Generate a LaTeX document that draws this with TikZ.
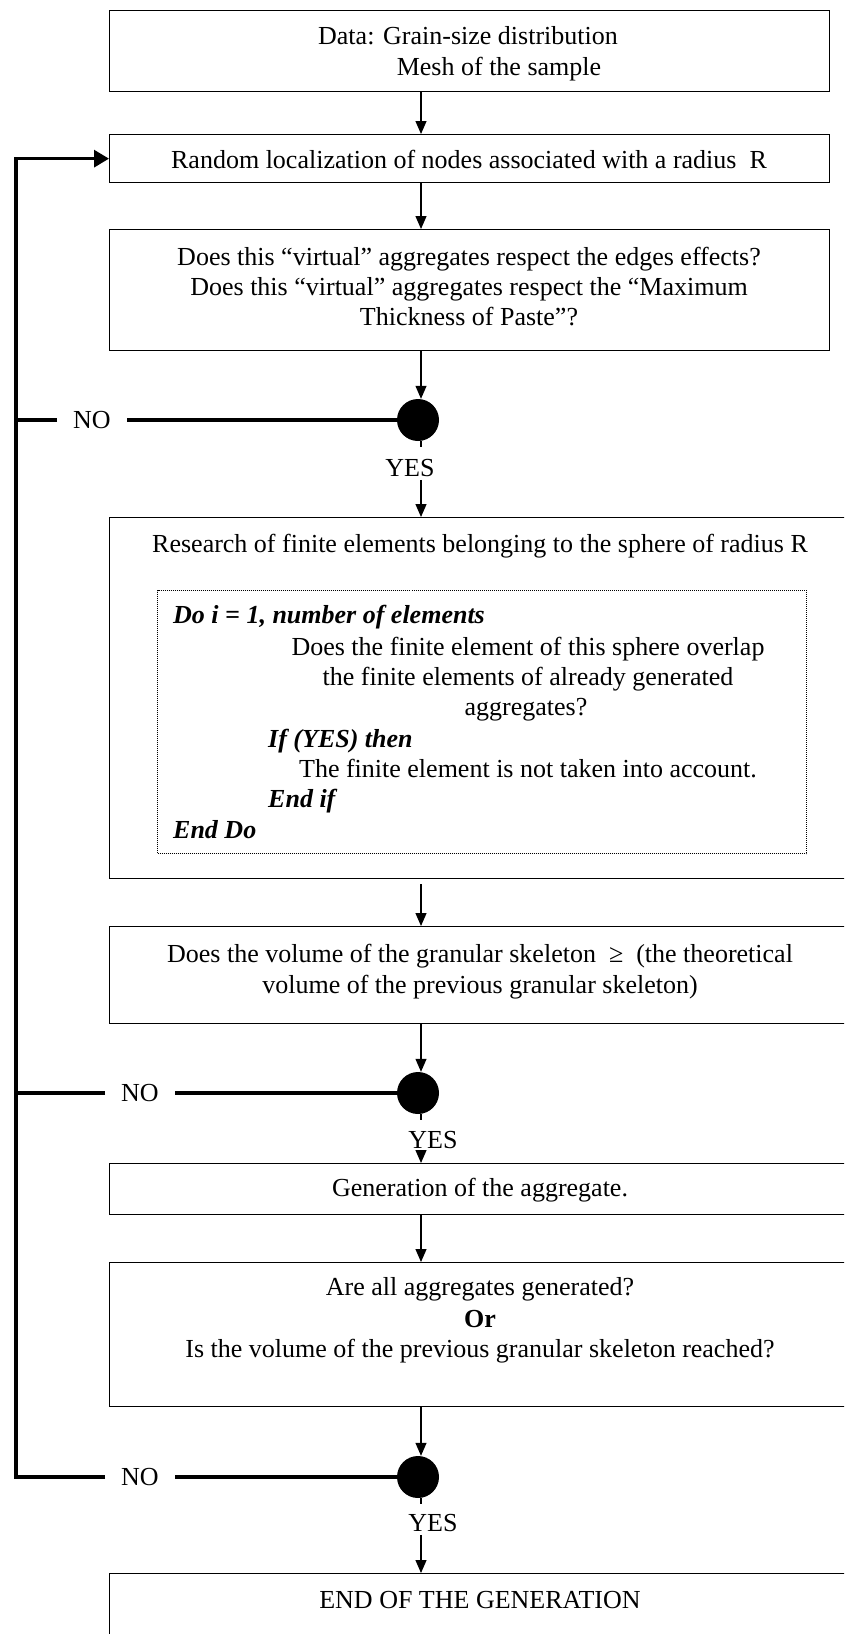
\documentclass[tikz,border=0pt]{standalone}
\usepackage{fontspec}
\setmainfont{Liberation Serif}
\usetikzlibrary{arrows.meta}
\begin{document}
\begin{tikzpicture}[x=1pt,y=-1pt,
  every node/.style={font=\fontsize{26}{30}\selectfont},
  box/.style={draw, line width=1.3pt, rectangle, inner sep=0pt, anchor=north west},
  inbox/.style={draw, densely dotted, line width=1pt, rectangle, inner sep=0pt, anchor=north west},
  txt/.style={anchor=base, inner sep=0pt},
  txtl/.style={anchor=base west, inner sep=0pt, font=\fontsize{26}{30}\selectfont\bfseries\itshape},
  dot/.style={circle, fill=black, minimum size=42pt, inner sep=0pt},
  lab/.style={inner ysep=3pt, inner xsep=16pt},
  arr/.style={line width=1.2pt, -{Triangle[length=13pt,width=11pt]}},
  stub/.style={line width=1.2pt},
  loopline/.style={line width=3.2pt}
]
\useasboundingbox (0,0) rectangle (844,1634);
\clip (0,0) rectangle (844,1634);

\coordinate (ax) at (421,0);

% boxes
\node[box, minimum width=720pt, minimum height=81pt] (b1) at (109,10) {};
\node[box, minimum width=720pt, minimum height=48pt] (b2) at (109,134) {};
\node[box, minimum width=720pt, minimum height=121pt] (b3) at (109,229) {};
\node[box, minimum width=742pt, minimum height=361pt] (b4) at (109,517) {};
\node[inbox, minimum width=649pt, minimum height=263pt] (ib) at (157,590) {};
\node[box, minimum width=742pt, minimum height=97pt] (b5) at (109,926) {};
\node[box, minimum width=742pt, minimum height=51pt] (b6) at (109,1163) {};
\node[box, minimum width=742pt, minimum height=144pt] (b7) at (109,1262) {};
\node[box, minimum width=742pt, minimum height=90pt] (b8) at (109,1573) {};

\coordinate (ltop) at (16,0 |- b2.west);

% decision dots
\node[dot] (c1) at (418,420) {};
\node[dot] (c2) at (418,1093) {};
\node[dot] (c3) at (418,1477) {};

% texts
\node[txt] (t1a) at (468,44) {Data: Grain-size distribution};
\node[txt] (t1b) at (499,75) {Mesh of the sample};
\node[txt] (t2) at (469,168) {Random localization of nodes associated with a radius\ \ R};
\node[txt] (t3a) at (469,265) {Does this “virtual” aggregates respect the edges effects?};
\node[txt] (t3b) at (469,295) {Does this “virtual” aggregates respect the “Maximum};
\node[txt] (t3c) at (469,325) {Thickness of Paste”?};
\node[txt] (t4) at (480,552) {Research of finite elements belonging to the sphere of radius R};
\node[txtl] (i1) at (173,623) {Do i = 1, number of elements};
\node[txt] (i2) at (528,655) {Does the finite element of this sphere overlap};
\node[txt] (i3) at (528,685) {the finite elements of already generated};
\node[txt] (i4) at (526,715) {aggregates?};
\node[txtl] (i5) at (268,747) {If (YES) then};
\node[txt] (i6) at (528,777) {The finite element is not taken into account.};
\node[txtl] (i7) at (268,807) {End if};
\node[txtl] (i8) at (173,838) {End Do};
\node[txt] (t5a) at (480,962) {Does the volume of the granular skeleton\ \ ≥\ \ (the theoretical};
\node[txt] (t5b) at (480,993) {volume of the previous granular skeleton)};
\node[txt] (t6) at (480,1196) {Generation of the aggregate.};
\node[txt] (t7a) at (480,1295) {Are all aggregates generated?};
\node[txt, font=\fontsize{26}{30}\selectfont\bfseries] (t7b) at (480,1327) {Or};
\node[txt] (t7c) at (480,1357) {Is the volume of the previous granular skeleton reached?};
\node[txt] (t8) at (480,1608) {END OF THE GENERATION};

% labels
\node[lab] (n1) at (92,420) {NO};
\node[lab] (n2) at (140,1093) {NO};
\node[lab] (n3) at (140,1477) {NO};
\node[lab] (y1) at (410,468) {YES};
\node[lab] (y2) at (433,1140) {YES};
\node[lab] (y3) at (433,1523) {YES};

% connectors
\draw[arr] (b1.south -| ax) -- (b2.north -| ax);
\draw[arr] (b2.south -| ax) -- (b3.north -| ax);
\draw[arr] (b3.south -| ax) -- (c1.north -| ax);
\draw[stub] (c1.south -| ax) -- ++(0,6);
\draw[arr] (y1.south -| ax) -- (b4.north -| ax);
\draw[arr] ([yshift=-5pt]b4.south -| ax) -- (b5.north -| ax);
\draw[arr] (b5.south -| ax) -- (c2.north -| ax);
\draw[stub] (c2.south -| ax) -- ++(0,6);
\draw[arr] (y2.south -| ax) -- (b6.north -| ax);
\draw[arr] (b6.south -| ax) -- (b7.north -| ax);
\draw[arr] (b7.south -| ax) -- (c3.north -| ax);
\draw[stub] (c3.south -| ax) -- ++(0,6);
\draw[arr] (y3.south -| ax) -- (b8.north -| ax);

% NO branches and loop back
\draw[loopline] (c1.center) -- (n1.east);
\draw[loopline] (n1.west) -- (n1.west -| ltop);
\draw[loopline] (c2.center) -- (n2.east);
\draw[loopline] (n2.west) -- (n2.west -| ltop);
\draw[loopline] (c3.center) -- (n3.east);
\draw[loopline, -{Triangle[length=15pt,width=17pt]}] (n3.west) -| (ltop) -- (b2.west);
\end{tikzpicture}
\end{document}
